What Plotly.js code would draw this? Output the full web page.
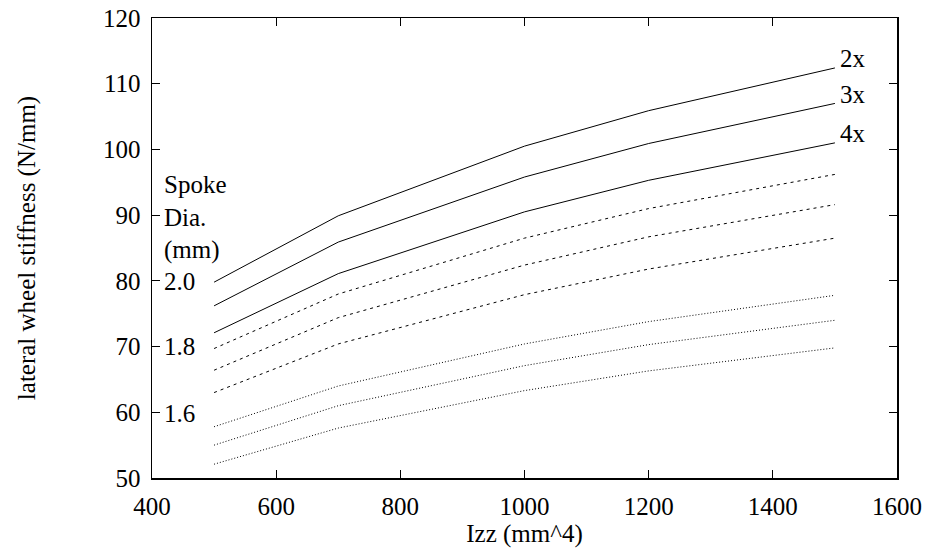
<!DOCTYPE html>
<html>
<head>
<meta charset="utf-8">
<script src="https://cdn.plot.ly/plotly-3.0.1.min.js"></script>
<style>html,body{margin:0;padding:0;background:#fff;}#chart{width:926px;height:548px;}</style>
</head>
<body>
<div id="chart"></div>
<script>
// Izz values (mm^4)
const izz = [500, 700, 1000, 1200, 1500];
// spoke diameter 2.0 mm
const d20_2x = [79.8, 89.9, 100.5, 105.9, 112.4];
const d20_3x = [76.2, 85.9, 95.8, 100.9, 107.0];
const d20_4x = [72.1, 81.1, 90.5, 95.3, 101.0];
// spoke diameter 1.8 mm
const d18_2x = [69.7, 78.0, 86.5, 91.0, 96.2];
const d18_3x = [66.4, 74.4, 82.4, 86.7, 91.6];
const d18_4x = [63.0, 70.4, 77.9, 81.8, 86.5];
// spoke diameter 1.6 mm
const d16_2x = [57.8, 64.0, 70.4, 73.8, 77.8];
const d16_3x = [55.0, 61.0, 67.1, 70.3, 74.0];
const d16_4x = [52.1, 57.6, 63.3, 66.3, 69.8];

const lacingLabels = ["2x", "3x", "4x"];
const diaLabels = ["2.0", "1.8", "1.6"];
const legendLines = ["Spoke", "Dia.", "(mm)"];

const groups = [
  {series: [d20_2x, d20_3x, d20_4x], dash: "solid"},
  {series: [d18_2x, d18_3x, d18_4x], dash: "3px,4px"},
  {series: [d16_2x, d16_3x, d16_4x], dash: "1px,2px"}
];

const traces = [];
groups.forEach(g => {
  g.series.forEach(s => {
    traces.push({x: izz, y: s, mode: "lines", type: "scatter",
      line: {color: "#000", width: 1, dash: g.dash}, hoverinfo: "skip"});
  });
});

const font = {family: "Liberation Serif", size: 25, color: "#000"};
const annotations = [];
[d20_2x, d20_3x, d20_4x].forEach((s, i) => {
  annotations.push({x: izz[izz.length - 1], y: s[s.length - 1], xref: "x", yref: "y",
    text: lacingLabels[i], showarrow: false, xanchor: "left", yanchor: "middle",
    xshift: 3, yshift: 9, font: font});
});
const legendY = [0.637, 0.567, 0.496];
legendLines.forEach((t, i) => {
  annotations.push({x: 0.013, y: legendY[i], xref: "paper", yref: "paper",
    text: t, showarrow: false, xanchor: "left", yanchor: "middle", font: font});
});
const diaY = [0.428, 0.285, 0.141];
diaLabels.forEach((t, i) => {
  annotations.push({x: 0.013, y: diaY[i], xref: "paper", yref: "paper",
    text: t, showarrow: false, xanchor: "left", yanchor: "middle", font: font});
});

const axisCommon = {
  showgrid: false, zeroline: false, showline: true, linecolor: "#000", linewidth: 1.5,
  mirror: "allticks", ticks: "inside", ticklen: 8, tickwidth: 1.2, tickcolor: "#000",
  tickfont: font
};

const layout = {
  width: 926, height: 548,
  margin: {l: 152, r: 29, t: 18, b: 70},
  paper_bgcolor: "#fff", plot_bgcolor: "#fff",
  showlegend: false,
  font: font,
  xaxis: Object.assign({}, axisCommon, {range: [400, 1600], dtick: 200,
    ticklabelstandoff: 5,
    title: {text: "Izz (mm^4)", font: font, standoff: 0}}),
  yaxis: Object.assign({}, axisCommon, {range: [50, 120], dtick: 10,
    ticklabelstandoff: 5,
    title: {text: "lateral wheel stiffness (N/mm)", font: font, standoff: 60}}),
  annotations: annotations
};

Plotly.newPlot("chart", traces, layout, {staticPlot: true});
</script>
</body>
</html>
